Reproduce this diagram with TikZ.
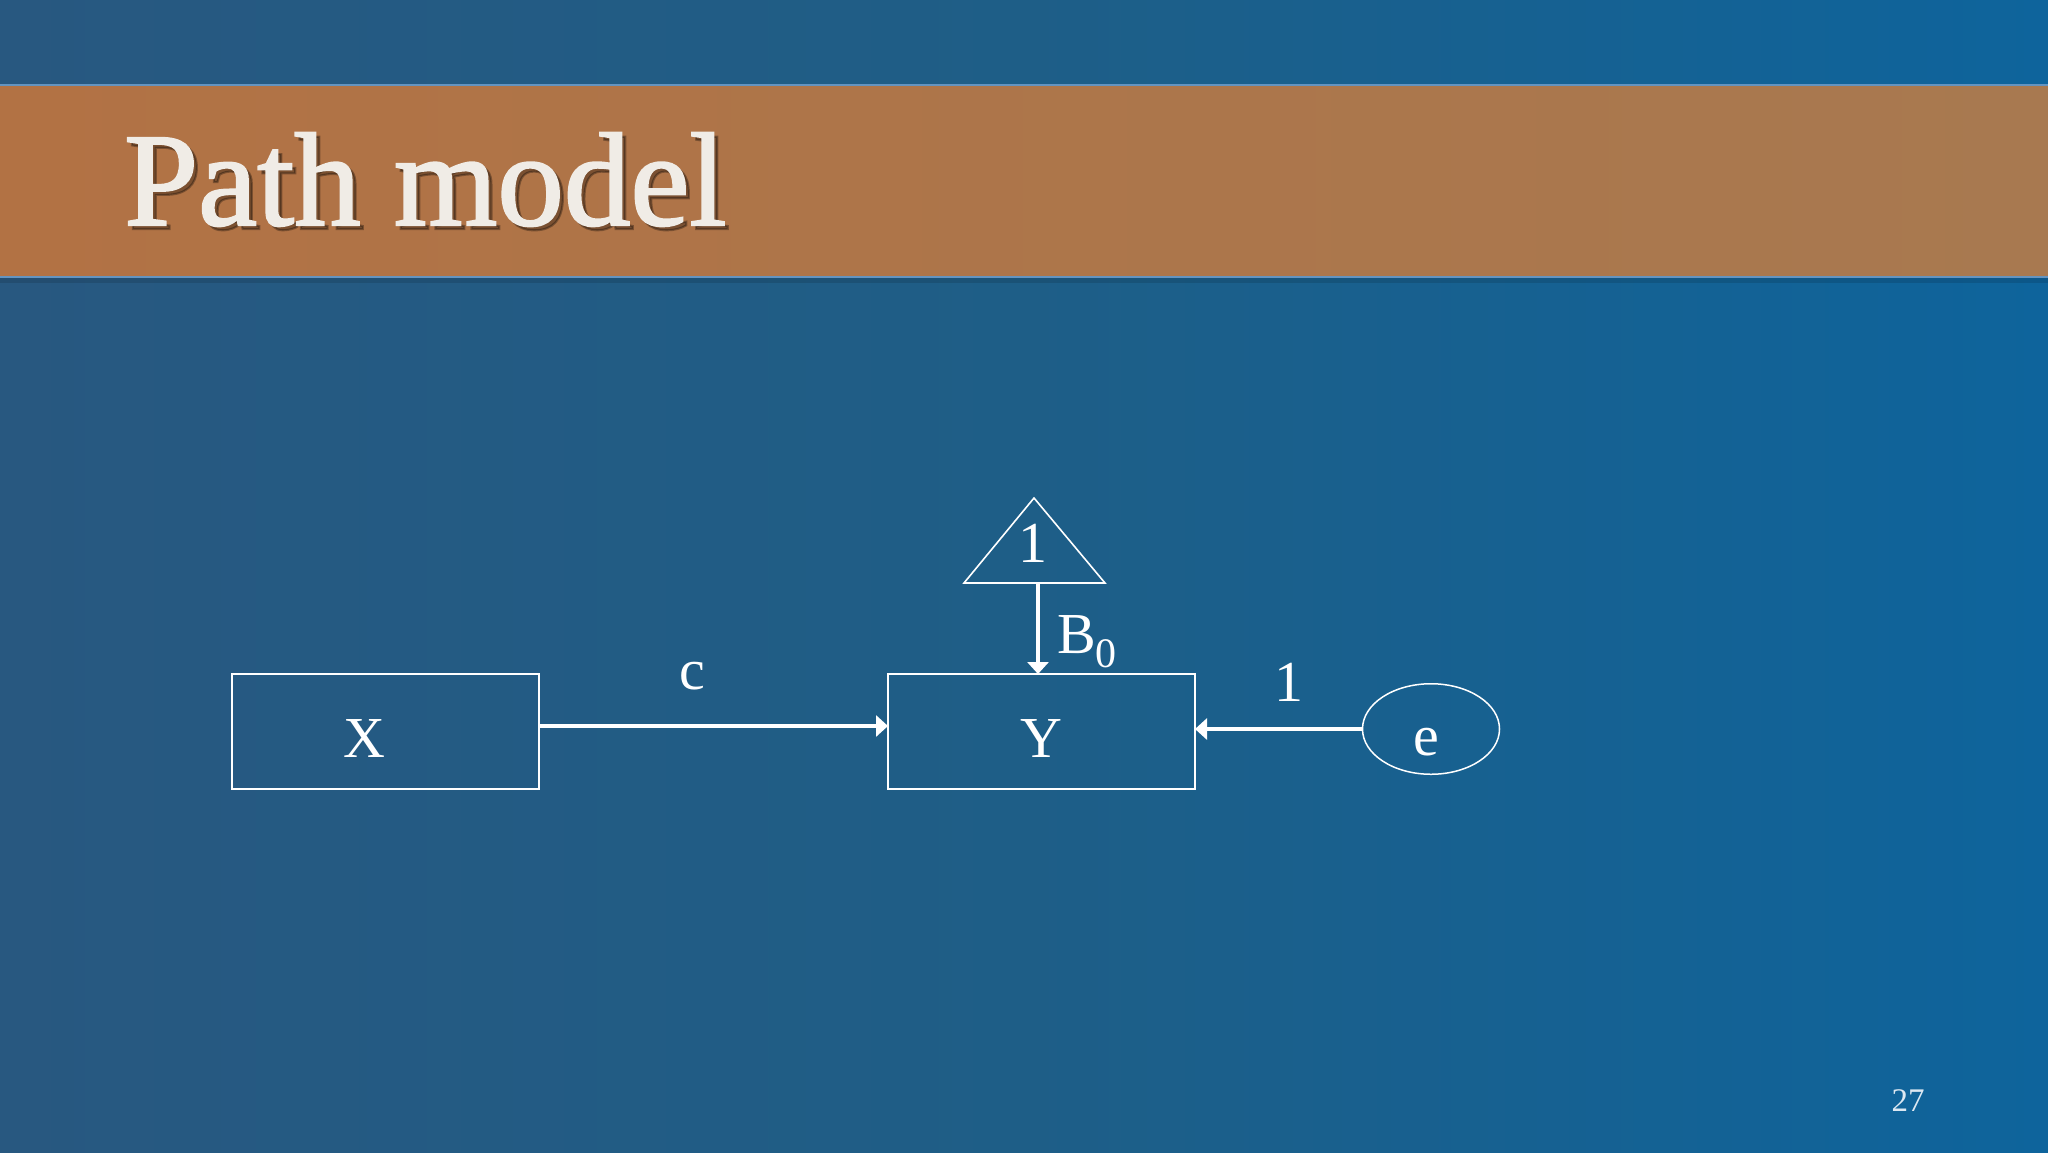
\documentclass[tikz,border=0pt]{standalone}
\usepackage{fontspec}
\setmainfont{Liberation Serif}
\newfontfamily\titlefont[FakeBold=1.6]{Liberation Serif}
\usetikzlibrary{arrows.meta,shapes.geometric}
\definecolor{bgL}{RGB}{40,88,128}
\definecolor{bgM}{RGB}{30,94,135}
\definecolor{bgR}{RGB}{14,100,156}
\definecolor{bandL}{RGB}{178,114,68}
\definecolor{bandR}{RGB}{168,121,80}
\definecolor{edgeblue}{RGB}{100,148,192}
\definecolor{titlecol}{RGB}{240,236,230}
\definecolor{numcol}{RGB}{220,232,242}
\begin{document}
\begin{tikzpicture}[x=1pt,y=-1pt,
  boxnode/.style={draw=white,line width=1.8pt,rectangle,minimum width=307pt,minimum height=115pt,
    inner sep=0pt,outer sep=0pt,text=white,font=\fontsize{58}{58}\selectfont,text height=58pt,text depth=6pt},
  ellnode/.style={draw=white,line width=1.5pt,ellipse,minimum width=137pt,minimum height=89pt,
    inner sep=0pt,outer sep=0pt,text=white,font=\fontsize{58}{58}\selectfont,text height=58pt,text depth=6pt},
  lbl/.style={text=white,font=\fontsize{58}{58}\selectfont,inner sep=0pt,anchor=base},
  arr/.style={draw=white,line width=4.2pt,-{Triangle[length=12pt,width=21pt]}}]
\useasboundingbox (0,0) rectangle (2048,1152);
% background
\shade[left color=bgL,right color=bgR,middle color=bgM] (0,0) rectangle (2048,1152);
% title band
\fill[black,opacity=0.12] (0,277) rectangle (2048,283);
\shade[left color=bandL,right color=bandR] (0,85) rectangle (2048,277);
\draw[edgeblue,line width=2pt] (0,85) -- (2048,85);
\draw[edgeblue,line width=2pt] (0,277) -- (2048,277);
\node[anchor=base west,inner sep=0pt,text=black,opacity=0.3,
  font=\fontsize{133}{133}\selectfont\titlefont] (titleshadow) at (128,229) {Path model};
\node[anchor=base west,inner sep=0pt,text=titlecol,
  font=\fontsize{133}{133}\selectfont\titlefont] (title) at (124,225) {Path model};
% nodes
\node[boxnode] (X) at (385.75,731.5) {X\hspace*{43pt}};
\node[boxnode] (Y) at (1041.5,731.5) {Y};
\node[ellnode] (e) at (1431,729) {e\hspace*{10pt}};
% triangle
\coordinate (tl) at (964,583);
\coordinate (tr) at (1105,583);
\coordinate (ta) at (1034,498);
\coordinate (tb) at (1038,583);
\draw[white,line width=1.6pt,line join=miter] (tl) -- (tr) -- (ta) -- cycle;
\node[lbl] (one) at (1033,562) {1};
% connectors
\draw[arr] ([yshift=5.5pt]X.east) -- ([yshift=5.5pt]Y.west);
\draw[arr] (e.west) -- (e.west -| Y.east);
\draw[arr] (tb) -- (tb |- Y.north);
% labels
\node[lbl] (c) at (692,689) {c};
\node[lbl] (el) at (1289,701) {1};
\node[lbl,anchor=base west] (b0) at (1057,653) {B\raisebox{-14pt}{\fontsize{42}{42}\selectfont 0}};
% page number
\node[anchor=base,inner sep=0pt,text=numcol,font=\fontsize{33}{33}\selectfont] (pg) at (1908,1111) {27};
\end{tikzpicture}
\end{document}
